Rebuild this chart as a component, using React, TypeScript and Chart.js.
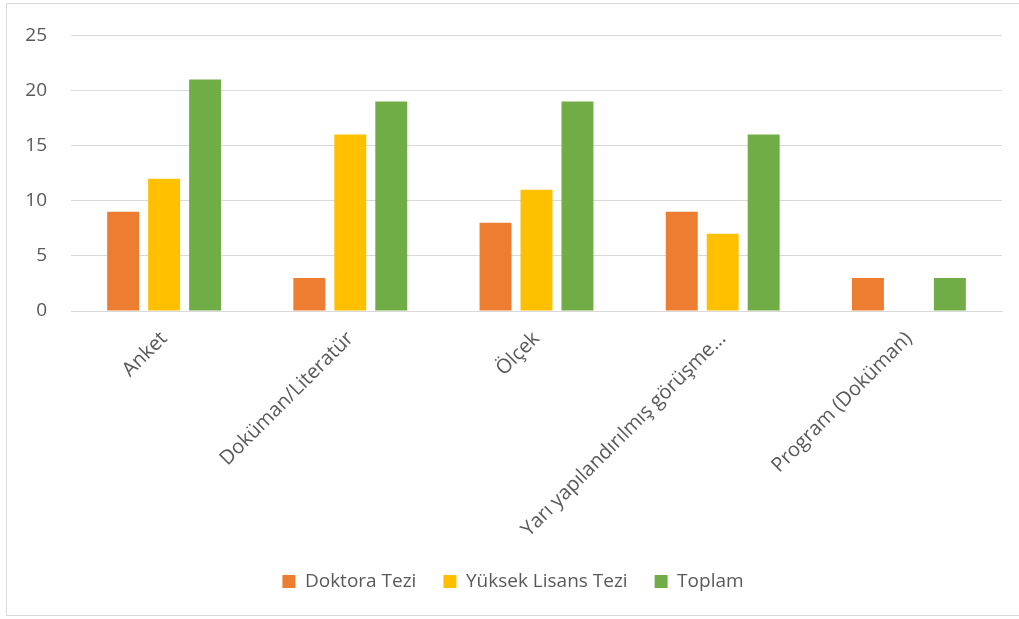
import React, { useEffect, useRef } from "react";
import { Chart, registerables } from "chart.js";

Chart.register(...registerables);

const categories = [
  "Anket",
  "Doküman/Literatür",
  "Ölçek",
  "Yarı yapılandırılmış görüşme…",
  "Program (Doküman)",
];
const doktoraTezi = [9, 3, 8, 9, 3];
const yuksekLisansTezi = [12, 16, 11, 7, 0];
const toplam = [21, 19, 19, 16, 3];
const yTicks = [0, 5, 10, 15, 20, 25];

const FONT = "'Open Sans', 'Liberation Sans', sans-serif";
const TEXT = "#595959";
const GRID = "#d9d9d9";

export default function App() {
  const canvasRef = useRef<HTMLCanvasElement | null>(null);

  useEffect(() => {
    if (!canvasRef.current) return;
    const chart = new Chart(canvasRef.current, {
      type: "bar",
      data: {
        labels: categories,
        datasets: [
          { label: "Doktora Tezi", data: doktoraTezi, backgroundColor: "#ED7D31" },
          { label: "Yüksek Lisans Tezi", data: yuksekLisansTezi, backgroundColor: "#FFC000" },
          { label: "Toplam", data: toplam, backgroundColor: "#70AD47" },
        ],
      },
      options: {
        animation: false,
        responsive: false,
        maintainAspectRatio: false,
        datasets: {
          bar: { categoryPercentage: 0.66, barPercentage: 0.78 },
        },
        layout: { padding: { left: 24, right: 17, top: 32, bottom: 18 } },
        font: { family: FONT },
        scales: {
          x: {
            grid: { display: false, drawTicks: false },
            border: { display: true, color: GRID, width: 1 },
            ticks: {
              color: TEXT,
              font: { family: FONT, size: 20 },
              minRotation: 45,
              maxRotation: 45,
              padding: 16,
              autoSkip: false,
            },
            afterFit: (s: any) => {
              s.height = 234;
            },
          },
          y: {
            min: 0,
            max: 25,
            afterBuildTicks: (s: any) => {
              s.ticks = yTicks.map((v) => ({ value: v }));
            },
            afterFit: (s: any) => {
              s.width = 47;
            },
            grid: { color: GRID, lineWidth: 1, drawTicks: false },
            border: { display: false },
            ticks: {
              color: TEXT,
              font: { family: FONT, size: 19 },
              padding: 24,
            },
          },
        },
        plugins: {
          legend: {
            position: "bottom",
            labels: {
              color: TEXT,
              font: { family: FONT, size: 19 },
              boxWidth: 13,
              boxHeight: 13,
              padding: 27,
            },
          },
          tooltip: { enabled: false },
        },
      } as any,
    });
    return () => chart.destroy();
  }, []);

  return (
    <>
      <div
        style={{
          position: "absolute",
          left: 6,
          top: 3,
          width: 1013,
          height: 613,
          borderTop: "1px solid #d9d9d9",
          borderLeft: "1px solid #d9d9d9",
          borderBottom: "1px solid #d9d9d9",
          boxSizing: "border-box",
          background: "#fff",
        }}
      />
      <canvas
        ref={canvasRef}
        width={1019}
        height={619}
        style={{ position: "absolute", left: 0, top: 0, width: 1019, height: 619 }}
      />
    </>
  );
}
